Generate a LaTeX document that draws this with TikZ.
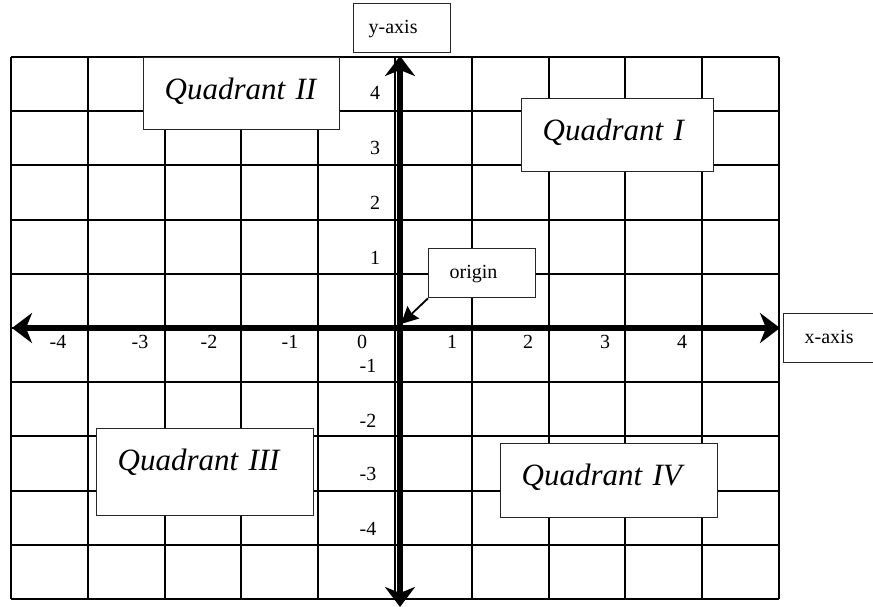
\documentclass[tikz,border=0pt]{standalone}
\usepackage{fontspec}
\setmainfont{Liberation Serif}
\usetikzlibrary{arrows.meta}
\tikzset{
  gridline/.style={line width=2pt, black},
  axisline/.style={line width=5.5pt,
    {Stealth[length=20pt,width=30pt,inset=6pt]}-{Stealth[length=20pt,width=30pt,inset=6pt]}},
  quadbox/.style={draw=black!85, line width=1.3pt, fill=white, anchor=north west,
    inner ysep=0pt, inner xsep=21pt, align=left, text height=42pt,
    font=\fontsize{31}{36}\selectfont\itshape},
  smallbox/.style={draw=black!85, line width=1.3pt, fill=white, anchor=north west,
    inner ysep=0pt, align=left, text height=30pt, text depth=19pt,
    font=\fontsize{20}{24}\selectfont},
  lbl/.style={anchor=base, inner sep=0pt, font=\fontsize{20}{24}\selectfont},
  pointer/.style={line width=1.8pt, -{Stealth[length=17pt,width=17pt,inset=2pt]}},
}
\begin{document}
\begin{tikzpicture}[x=1pt, y=-1pt]
\useasboundingbox (0,0) rectangle (873,606);
% grid
\foreach \i in {0,...,10} {
  \draw[gridline] ({11+76.8*\i},57) -- ({11+76.8*\i},599);
  \draw[gridline] (11,{57+54.2*\i}) -- (779,{57+54.2*\i});
}
% axes
\coordinate (xl) at (12,328);
\coordinate (xr) at (780,328);
\coordinate (yt) at (400,56);
\coordinate (yb) at (400,607);
\draw[axisline] (xl) -- (xr);
\draw[axisline] (yt) -- (yb);
% x labels
\node[lbl] (xm4) at (58,348) {-4};
\node[lbl] (xm3) at (140,348) {-3};
\node[lbl] (xm2) at (209,348) {-2};
\node[lbl] (xm1) at (290,348) {-1};
\node[lbl] (x0) at (362,348) {0};
\node[lbl] (x1) at (452,348) {1};
\node[lbl] (x2) at (528,348) {2};
\node[lbl] (x3) at (605,348) {3};
\node[lbl] (x4) at (682,348) {4};
% y labels
\node[lbl] (y4) at (375,99) {4};
\node[lbl] (y3) at (375,154) {3};
\node[lbl] (y2) at (375,209) {2};
\node[lbl] (y1) at (375,264) {1};
\node[lbl] (ym1) at (368,372) {-1};
\node[lbl] (ym2) at (368,427) {-2};
\node[lbl] (ym3) at (368,480) {-3};
\node[lbl] (ym4) at (368,535) {-4};
% quadrant boxes
\node[quadbox, text width=154pt, text depth=30pt] (q2) at (143,57) {Quadrant II};
\node[quadbox, text width=150pt, text depth=31pt] (q1) at (521,98) {Quadrant I};
\node[quadbox, text width=175pt, text depth=45pt] (q3) at (96,428) {Quadrant III};
\node[quadbox, text width=175pt, text depth=32pt] (q4) at (500,443) {Quadrant IV};
% small boxes
\node[smallbox, inner xsep=15pt, text width=67pt] (ybox) at (353,3) {y-axis};
\node[smallbox, inner xsep=21pt, text width=65pt] (obox) at (428,248) {origin};
\node[smallbox, inner xsep=21pt, text width=90pt] (xbox) at (783,313) {x-axis};
% origin pointer
\coordinate (o) at (401,324);
\draw[pointer] (obox.south west) -- (o);
\end{tikzpicture}
\end{document}
